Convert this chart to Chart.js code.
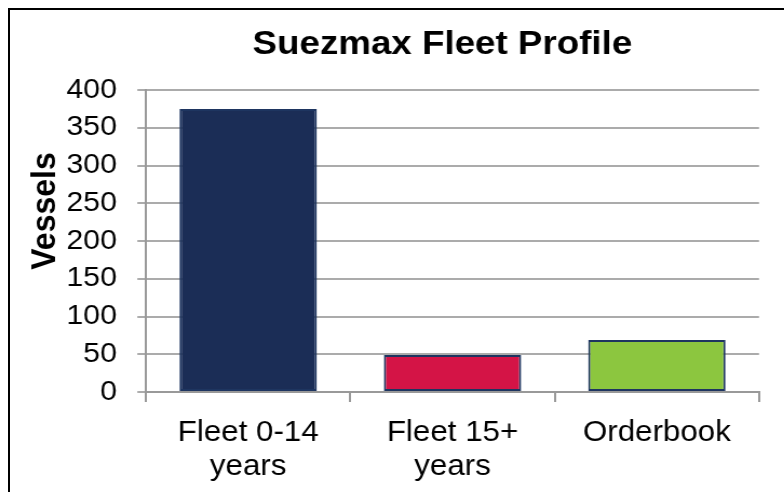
<!DOCTYPE html>
<html>
<head>
<meta charset="utf-8">
<script src="https://cdn.jsdelivr.net/npm/chart.js@4/dist/chart.umd.min.js"></script>
<style>
  html, body { margin: 0; padding: 0; background: #fff; overflow: hidden; width: 784px; height: 492px; }
  #frame { position: absolute; left: 8px; top: 8px; width: 900px; height: 600px;
           border-top: 2px solid #000; border-left: 2px solid #000; }
  #wrap { position: absolute; left: 0; top: 0; width: 726px; height: 492px;
          transform: scaleX(1.08); transform-origin: 0 0; }
</style>
</head>
<body>
<div id="frame"></div>
<div id="wrap"><canvas id="c" width="726" height="492"></canvas></div>
<script>
const chartTitle = "Suezmax Fleet Profile";
const yAxisTitle = "Vessels";
const categories = [["Fleet 0-14", "years"], ["Fleet 15+", "years"], "Orderbook"];
const vessels = [375, 49, 69];
const barColors = ["#1b2d56", "#d41446", "#8cc63f"];
const yTicks = { min: 0, max: 400, step: 50 };

const FONT = "'Liberation Sans', Arial, sans-serif";

const placement = {
  id: 'placement',
  afterLayout(chart) {
    const t = chart.titleBlock;
    const cx = 409.6;
    t.left = cx - 340; t.right = cx + 340; t.width = 680;
  },
  afterDraw(chart) {
    const ctx = chart.ctx;
    ctx.save();
    ctx.translate(41.7, 211);
    ctx.rotate(-Math.PI / 2);
    ctx.font = "bold 32px " + FONT;
    ctx.fillStyle = "#000";
    ctx.textAlign = "center";
    ctx.textBaseline = "middle";
    ctx.fillText(yAxisTitle, 0, 0);
    ctx.restore();
  }
};

new Chart(document.getElementById('c'), {
  type: 'bar',
  data: {
    labels: categories,
    datasets: [{
      data: vessels,
      backgroundColor: barColors,
      borderColor: "#1e3560",
      borderWidth: 2,
      borderSkipped: false,
      categoryPercentage: 1,
      barPercentage: 0.672
    }]
  },
  options: {
    responsive: false,
    animation: false,
    devicePixelRatio: 1,
    layout: { padding: { left: 0, right: 23.2, top: 0, bottom: 0 } },
    plugins: {
      legend: { display: false },
      tooltip: { enabled: false },
      title: {
        display: true,
        text: chartTitle,
        color: "#000",
        font: { family: FONT, size: 34, weight: 'bold', lineHeight: 1.2 },
        padding: { top: 24, bottom: 25.2 }
      }
    },
    scales: {
      x: {
        afterFit(s) { s.height = 100; },
        grid: { drawOnChartArea: false, drawTicks: true, tickLength: 10, offset: true, color: "#999", lineWidth: 2 },
        border: { color: "#999", width: 2 },
        ticks: { color: "#000", padding: 14, maxRotation: 0, font: { family: FONT, size: 29, lineHeight: 1.17 } }
      },
      y: {
        min: yTicks.min, max: yTicks.max,
        afterFit(s) { s.width = 135.2; },
        grid: { color: "#ababab", lineWidth: 2, tickLength: 8 },
        border: { color: "#999", width: 2 },
        ticks: { stepSize: yTicks.step, color: "#000", padding: 19, font: { family: FONT, size: 28 } }
      }
    }
  },
  plugins: [placement]
});
</script>
</body>
</html>
